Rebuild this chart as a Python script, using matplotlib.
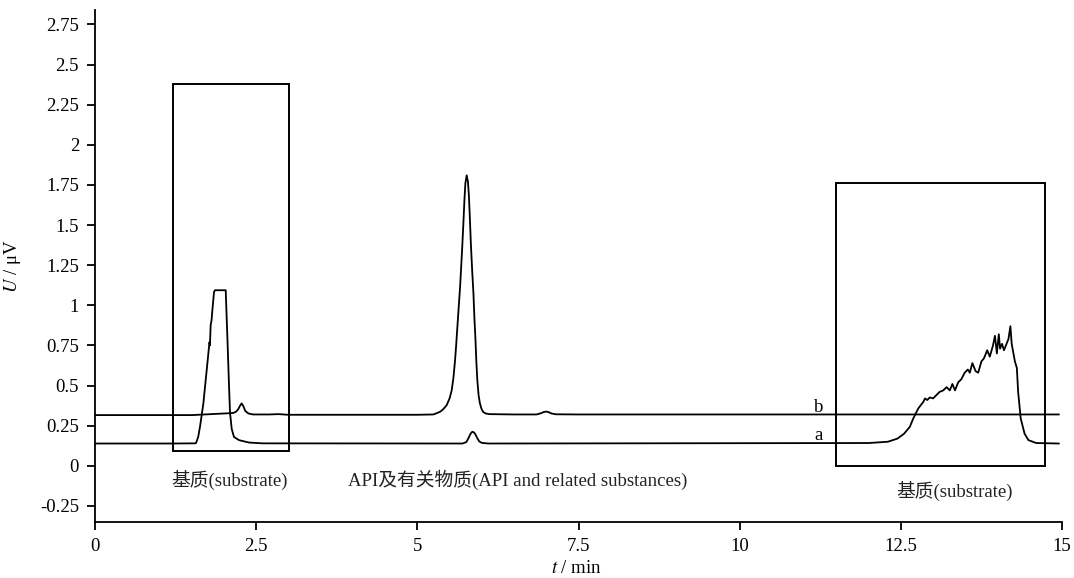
import matplotlib
matplotlib.use("Agg")
import matplotlib.pyplot as plt
from matplotlib.patches import Rectangle

plt.rcParams['font.family'] = ['Liberation Serif', 'Noto Sans CJK SC']
plt.rcParams['mathtext.fontset'] = 'stix'
plt.rcParams['axes.unicode_minus'] = False

# trace b (upper baseline)
b_t = [0.0, 1.5, 1.8, 2.0, 2.1, 2.15, 2.19, 2.22, 2.25, 2.275, 2.30, 2.33, 2.38, 2.45, 2.7, 2.85, 3.0,
       5.0, 5.25, 5.35, 5.40, 5.455, 5.50, 5.533, 5.56, 5.585, 5.60, 5.621, 5.64, 5.663, 5.68, 5.699,
       5.715, 5.73, 5.745, 5.765, 5.785, 5.80, 5.815, 5.83, 5.85, 5.87, 5.885, 5.90, 5.915, 5.93,
       5.95, 5.97, 5.995, 6.02, 6.06, 6.12, 6.5, 6.85, 6.92, 6.96, 7.0, 7.04, 7.08, 7.15, 7.5, 14.95]
b_u = [0.316, 0.316, 0.322, 0.326, 0.328, 0.330, 0.338, 0.352, 0.375, 0.389, 0.372, 0.342, 0.326, 0.320, 0.320, 0.322, 0.318,
       0.318, 0.320, 0.336, 0.352, 0.378, 0.420, 0.471, 0.550, 0.658, 0.740, 0.866, 0.980, 1.115, 1.240, 1.385,
       1.520, 1.654, 1.760, 1.810, 1.770, 1.680, 1.540, 1.385, 1.220, 1.074, 0.920, 0.800, 0.650, 0.535,
       0.440, 0.390, 0.355, 0.336, 0.326, 0.322, 0.320, 0.320, 0.328, 0.335, 0.338, 0.334, 0.326, 0.321, 0.320, 0.320]

# trace a (lower baseline)
a_t = [0.0, 1.2, 1.55, 1.567, 1.60, 1.628, 1.68, 1.732, 1.768, 1.775, 1.782, 1.794, 1.80, 1.808, 1.82, 1.846, 1.861,
       2.027, 2.053, 2.079, 2.094, 2.12, 2.155, 2.233, 2.388, 2.6,
       5.7, 5.76, 5.79, 5.82, 5.845, 5.86, 5.88, 5.90, 5.93, 5.96, 6.0, 6.1,
       12.0, 12.3, 12.45, 12.55, 12.64, 12.693, 12.77, 12.85, 12.875, 12.91, 12.95, 13.0, 13.05, 13.1, 13.158,
       13.21, 13.26, 13.30, 13.34, 13.39, 13.44, 13.49, 13.54, 13.57, 13.61, 13.66, 13.70, 13.75, 13.79,
       13.84, 13.88, 13.93, 13.96, 13.99, 14.02, 14.04, 14.07, 14.10, 14.14, 14.17, 14.20, 14.22, 14.27,
       14.30, 14.32, 14.36, 14.42, 14.48, 14.6, 14.95]
a_u = [0.139, 0.139, 0.140, 0.142, 0.18, 0.243, 0.388, 0.596, 0.741, 0.77, 0.75, 0.880, 0.89, 0.91, 0.97, 1.084, 1.094,
       1.094, 0.80, 0.49, 0.33, 0.23, 0.18, 0.16, 0.145, 0.140,
       0.139, 0.148, 0.170, 0.196, 0.210, 0.212, 0.207, 0.196, 0.172, 0.152, 0.143, 0.139,
       0.142, 0.150, 0.170, 0.200, 0.243, 0.295, 0.357, 0.399, 0.420, 0.410, 0.426, 0.420, 0.440, 0.460, 0.470,
       0.490, 0.470, 0.510, 0.470, 0.520, 0.540, 0.580, 0.600, 0.580, 0.640, 0.590, 0.580, 0.650, 0.670,
       0.720, 0.680, 0.750, 0.810, 0.700, 0.820, 0.730, 0.760, 0.720, 0.760, 0.790, 0.870, 0.760, 0.650,
       0.610, 0.460, 0.295, 0.200, 0.160, 0.142, 0.139]

# marked regions (t0, t1, u0, u1)
boxes = [(1.205, 3.014, 0.092, 2.377), (11.49, 14.73, 0.0, 1.759)]

labels = ["基质(substrate)", "API及有关物质(API and related substances)", "基质(substrate)"]
label_pos = [(2.09, -0.09), (6.56, -0.09), (13.34, -0.155)]

y_ticks = [-0.25, 0, 0.25, 0.5, 0.75, 1, 1.25, 1.5, 1.75, 2, 2.25, 2.5, 2.75]
y_ticklabels = ['-0.25', '0', '0.25', '0.5', '0.75', '1', '1.25', '1.5', '1.75', '2', '2.25', '2.5', '2.75']
x_ticks = [0, 2.5, 5, 7.5, 10, 12.5, 15]
x_ticklabels = ['0', '2.5', '5', '7.5', '10', '12.5', '15']

fig = plt.figure(figsize=(10.74, 5.78), dpi=100)
ax = fig.add_axes([0.0885, 0.0969, 0.9003, 0.8858])

ax.plot(b_t, b_u, color='black', lw=1.3)
ax.plot(a_t, a_u, color='black', lw=1.3)

for t0, t1, u0, u1 in boxes:
    ax.add_patch(Rectangle((t0, u0), t1 - t0, u1 - u0, fill=False, edgecolor='black', lw=1.4))

for txt, (x, y) in zip(labels, label_pos):
    ax.text(x, y, txt, ha='center', va='center', fontsize=13.5, color='#222222')

ax.text(11.22, 0.365, 'b', ha='center', va='center', fontsize=13.5)
ax.text(11.22, 0.19, 'a', ha='center', va='center', fontsize=13.5)

ax.set_xlim(0, 15)
ax.set_ylim(-0.35, 2.84)
ax.set_xticks(x_ticks)
ax.set_xticklabels(x_ticklabels)
ax.set_yticks(y_ticks)
ax.set_yticklabels(y_ticklabels)
ax.tick_params(direction='out', length=5.5, width=1.3, labelsize=13.5, pad=6)

for side in ['top', 'right']:
    ax.spines[side].set_visible(False)
for side in ['left', 'bottom']:
    ax.spines[side].set_linewidth(1.3)

ax.set_xlabel(r'$t$ / min', fontsize=13.5)
ax.set_ylabel(r'$U$ / μV', fontsize=13.5)
ax.xaxis.set_label_coords(0.498, -0.075)
ax.yaxis.set_label_coords(-0.074, 0.5)

fig.savefig('out.png', dpi=100)
